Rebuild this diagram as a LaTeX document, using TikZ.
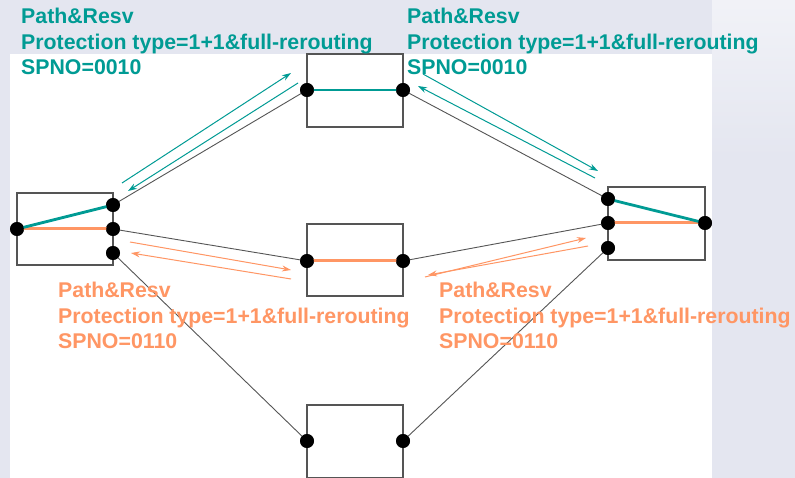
\documentclass[tikz,border=0pt]{standalone}
\usepackage{fontspec}
\setmainfont{Liberation Sans}
\usetikzlibrary{arrows.meta}
\definecolor{teal1}{RGB}{0,155,148}
\definecolor{org1}{RGB}{255,150,100}
\definecolor{lav}{RGB}{228,230,240}
\definecolor{edgegray}{RGB}{85,85,85}
\begin{document}
\begin{tikzpicture}[x=1pt,y=-1pt,
  box/.style={draw=edgegray,line width=1.2pt,fill=white,minimum width=96pt,minimum height=72pt,inner sep=0pt},
  port/.style={circle,fill=black,minimum size=14pt,inner sep=0pt},
  link/.style={draw=edgegray,line width=0.9pt},
  tpath/.style={draw=teal1,line width=2.8pt},
  opath/.style={draw=org1,line width=3pt},
  tsig/.style={draw=teal1,line width=1pt,-{Stealth[length=9pt,width=6pt]}},
  osig/.style={draw=org1,line width=1pt,-{Stealth[length=9pt,width=6pt]}},
  lbl/.style={anchor=north west,align=left,inner sep=0pt,font=\fontsize{21.3}{25.5}\selectfont\bfseries}
]
\useasboundingbox (0,0) rectangle (795,478);
% background
\fill[lav] (0,0) rectangle (795,478);
\shade[top color=white,bottom color=lav,opacity=0.5] (712,0) rectangle (795,160);
\fill[white] (10,54) rectangle (712,478);

% boxes
\node[box] (L) at (65,229) {};
\node[box,minimum height=73pt] (T) at (355,90.5) {};
\node[box] (M) at (355,260) {};
\node[box,minimum height=73pt] (B) at (355,441.5) {};
\node[box,minimum width=97pt,minimum height=73pt] (R) at (656.5,223.5) {};

% ports
\node[port] (l0) at (17,229) {};
\node[port] (l1) at (113,205) {};
\node[port] (l2) at (113,229) {};
\node[port] (l3) at (113,253) {};
\node[port] (t1) at (307,90) {};
\node[port] (t2) at (403,90) {};
\node[port] (m1) at (307,261) {};
\node[port] (m2) at (403,261) {};
\node[port] (b1) at (307,441) {};
\node[port] (b2) at (403,441) {};
\node[port] (r1) at (608,199) {};
\node[port] (r2) at (608,223) {};
\node[port] (r3) at (608,248) {};
\node[port] (r0) at (705,223) {};

% links
\draw[link] (l1.center) -- (t1.center);
\draw[link] (t2.center) -- (r1.center);
\draw[link] (l2.center) -- (m1.center);
\draw[link] (m2.center) -- (r2.center);
\draw[link] (l3.center) -- (b1.center);
\draw[link] (b2.center) -- (r3.center);

% paths inside nodes
\draw[opath] (l0.center) -- (l2.center);
\draw[tpath] (l0.center) -- (l1.center);
\draw[tpath] (t1.center) -- (t2.center);
\draw[opath] (m1.center) -- (m2.center);
\draw[opath] (r2.center) -- (r0.center);
\draw[tpath] (r1.center) -- (r0.center);

% redraw ports on top
\foreach \p in {l0,l1,l2,l3,t1,t2,m1,m2,b1,b2,r1,r2,r3,r0}
  \fill[black] (\p.center) circle (6.8pt);

% signalling arrows
\coordinate (a1s) at (122,183); \coordinate (a1e) at (291,73);
\coordinate (a2s) at (298,83);  \coordinate (a2e) at (128,191);
\coordinate (a3s) at (595,178); \coordinate (a3e) at (418,86);
\coordinate (a4s) at (423,74);  \coordinate (a4e) at (598,171);
\draw[tsig] (a1s) -- (a1e);
\draw[tsig] (a2s) -- (a2e);
\draw[tsig] (a3s) -- (a3e);
\draw[tsig] (a4s) -- (a4e);

\coordinate (o1s) at (130,242); \coordinate (o1e) at (291,270);
\coordinate (o2s) at (291,279); \coordinate (o2e) at (131,253);
\coordinate (o3s) at (425,277); \coordinate (o3e) at (586,238);
\coordinate (o4s) at (588,246); \coordinate (o4e) at (428,275);
\draw[osig] (o1s) -- (o1e);
\draw[osig] (o2s) -- (o2e);
\draw[osig] (o3s) -- (o3e);
\draw[osig] (o4s) -- (o4e);

% labels
\node[lbl,text=teal1] (tl) at (21,8) {Path\&Resv\\Protection type=1+1\&full-rerouting\\SPNO=0010};
\node[lbl,text=teal1] (tr) at (407,8) {Path\&Resv\\Protection type=1+1\&full-rerouting\\SPNO=0010};
\node[lbl,text=org1] (ol) at (58,282) {Path\&Resv\\Protection type=1+1\&full-rerouting\\SPNO=0110};
\node[lbl,text=org1] (or) at (439,282) {Path\&Resv\\Protection type=1+1\&full-rerouting\\SPNO=0110};
\end{tikzpicture}
\end{document}
